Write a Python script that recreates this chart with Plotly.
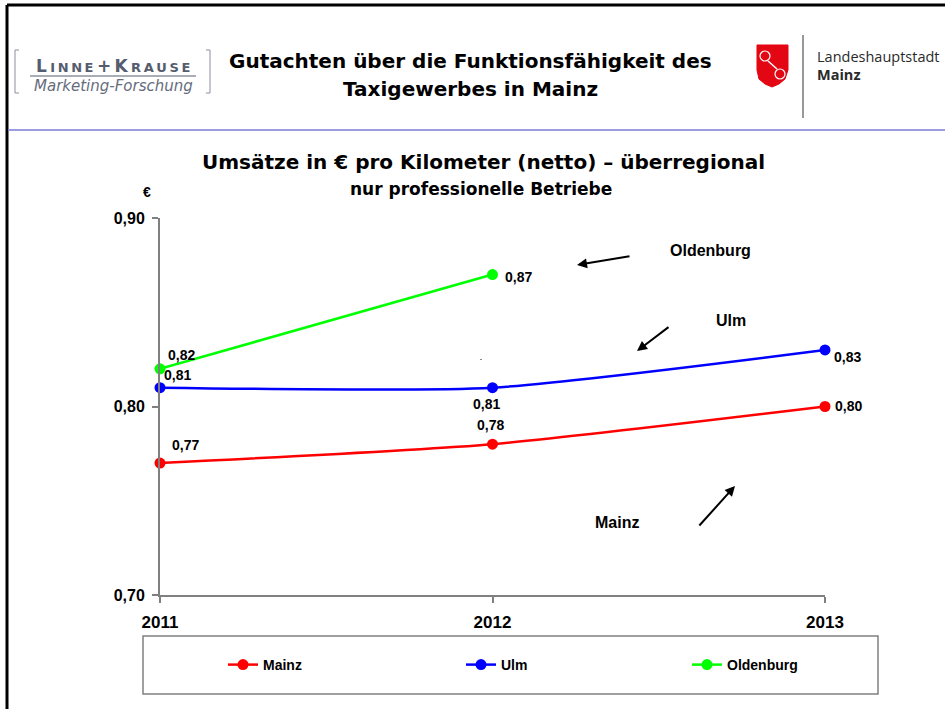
import plotly.graph_objects as go

# ---------------- data ----------------
years = [2011, 2012, 2013]
year_labels = ["2011", "2012", "2013"]
mainz = [0.77, 0.78, 0.80]
ulm = [0.81, 0.81, 0.83]
oldenburg = [0.82, 0.87, None]
y_ticks = [0.70, 0.80, 0.90]
y_tick_labels = ["0,70", "0,80", "0,90"]

# ---------------- geometry helpers (pixel -> paper) ----------------
W_FIG, H_FIG = 945, 709
L, R, T, B = 160, 825, 218, 595
PW, PH = R - L, B - T


def px(x):
    return (x - L) / PW


def py(y):
    return (B - y) / PH


FONT = "Liberation Sans, Arial, sans-serif"
WIDE = "DejaVu Sans, sans-serif"

fig = go.Figure()

series = [
    ("Mainz", mainz, "#ff0000", "legend"),
    ("Ulm", ulm, "#0000ff", "legend2"),
    ("Oldenburg", oldenburg, "#00ff00", "legend3"),
]
for name, vals, col, lg in series:
    fig.add_trace(go.Scatter(
        x=years, y=vals, name=name, mode="lines+markers",
        line=dict(color=col, width=2.5, shape="spline", smoothing=0.6),
        marker=dict(color=col, size=11),
        cliponaxis=False, legend=lg, connectgaps=False,
    ))

def fmt(v):
    return f"{v:.2f}".replace(".", ",")

# data labels (value, year, xshift, yshift)
label_specs = [
    (mainz, [(25, 18), (-2, 19), (23, 1)]),
    (ulm, [(17, 13), (-6, -16), (22, -7)]),
    (oldenburg, [(21, 14), (26, -2), None]),
]
annotations = []
for vals, shifts in label_specs:
    for yr, v, s in zip(years, vals, shifts):
        if v is None or s is None:
            continue
        annotations.append(dict(
            x=yr, y=v, xref="x", yref="y", text=fmt(v), showarrow=False,
            xshift=s[0], yshift=s[1], xanchor="center", yanchor="middle",
            font=dict(family=FONT, size=14, color="black", weight="bold"),
        ))


def ptext(x, y, text, size, weight="normal", color="black", xanchor="center",
          family=FONT, style="normal"):
    annotations.append(dict(
        x=px(x), y=py(y), xref="paper", yref="paper", text=text, showarrow=False,
        xanchor=xanchor, yanchor="middle",
        font=dict(family=family, size=size, color=color, weight=weight, style=style),
    ))


# header
ptext(470, 61, "Gutachten über die Funktionsfähigkeit des", 20, "bold", family=WIDE)
ptext(470, 89, "Taxigewerbes in Mainz", 20, "bold", family=WIDE)
# chart title
ptext(483, 162, "Umsätze in € pro Kilometer (netto) – überregional", 20, "bold", family=WIDE)
ptext(481, 189, "nur professionelle Betriebe", 17, "bold", family=WIDE)
ptext(147, 192, "€", 14, "bold")

# series callouts
ptext(710, 250, "Oldenburg", 16, "bold")
ptext(731, 320, "Ulm", 16, "bold")
ptext(617, 522, "Mainz", 16, "bold")

# Linne+Krause logo text
ts = "\u2009"
small = lambda s: "<span style='font-size:13px'>" + ts.join(s) + "</span>"
ptext(113, 66, "L" + ts + small("INNE") + ts + "+" + ts + "K" + ts + small("RAUSE"),
      17, "bold", "#555c6e", family=WIDE)
ptext(113, 86, "Marketing-Forschung", 15, "normal", "#666c7c",
      family=WIDE, style="italic")
# Mainz logo text
ptext(815, 57, "Landeshauptstadt", 14.5, "normal", "#2a2a2a", xanchor="left",
      family="Open Sans, sans-serif")
ptext(815, 75, "Mainz", 14.5, "bold", "#2a2a2a", xanchor="left",
      family="Open Sans, sans-serif")

# arrows (head x,y ; tail x,y)
arrows = [((577, 265), (631, 256)), ((637, 351), (670, 326)), ((735, 486), (698, 527))]
for (hx, hy), (tx, ty) in arrows:
    annotations.append(dict(
        x=px(hx), y=py(hy), xref="paper", yref="paper",
        ax=tx - hx, ay=ty - hy, axref="pixel", ayref="pixel",
        text="", showarrow=True, arrowhead=2, arrowsize=1, arrowwidth=2,
        arrowcolor="black",
    ))

shapes = []


def pline(x0, y0, x1, y1, color, width):
    shapes.append(dict(type="line", xref="paper", yref="paper",
                       x0=px(x0), y0=py(y0), x1=px(x1), y1=py(y1),
                       line=dict(color=color, width=width)))


def ppath(points, color, width, fill=None, close=False):
    d = "M " + " L ".join(f"{px(x):.5f},{py(y):.5f}" for x, y in points)
    if close:
        d += " Z"
    shapes.append(dict(type="path", xref="paper", yref="paper", path=d,
                       line=dict(color=color, width=width),
                       fillcolor=fill if fill else "rgba(0,0,0,0)"))


# slide frame
pline(7, 5, 945, 5, "black", 3)
pline(7, 5, 7, 709, "black", 3)
# separator
pline(8, 130, 945, 130, "#7b7bd8", 1.5)
# Linne+Krause brackets and rule
ppath([(19, 50), (15, 50), (15, 93), (19, 93)], "#8a90a0", 1)
ppath([(206, 50), (210, 50), (210, 93), (206, 93)], "#8a90a0", 1)
pline(30, 76, 196, 76, "#555c6e", 1)
# Mainz logo: shield
shield = [(757, 45), (788, 45), (788, 70), (785, 79), (779, 84), (772, 87),
          (765, 84), (759, 79), (757, 70)]
ppath(shield, "#e30613", 1, fill="#e30613", close=True)
for cx, cy in [(765, 56), (780, 74)]:
    shapes.append(dict(type="circle", xref="paper", yref="paper",
                       x0=px(cx - 5), x1=px(cx + 5), y0=py(cy + 5), y1=py(cy - 5),
                       line=dict(color="white", width=1.2)))
pline(768, 61, 777, 69, "white", 1.5)
pline(803, 35, 803, 118, "#333333", 1)
# legend frame
shapes.append(dict(type="rect", xref="paper", yref="paper",
                   x0=px(143), x1=px(878), y0=py(694), y1=py(636),
                   line=dict(color="#808080", width=1.5)))
# stray dot
shapes.append(dict(type="rect", xref="paper", yref="paper",
                   x0=px(480.5), x1=px(481.5), y0=py(360), y1=py(359),
                   line=dict(width=0), fillcolor="#330033"))

leg_common = dict(orientation="h", yanchor="middle", xanchor="left",
                  bgcolor="rgba(0,0,0,0)", borderwidth=0,
                  font=dict(family=FONT, size=14, color="black", weight="bold"))

fig.update_layout(
    width=W_FIG, height=H_FIG,
    margin=dict(l=L, r=W_FIG - R, t=T, b=H_FIG - B),
    paper_bgcolor="white", plot_bgcolor="white",
    showlegend=True,
    legend=dict(x=px(223), y=py(665), **leg_common),
    legend2=dict(x=px(461), y=py(665), **leg_common),
    legend3=dict(x=px(687), y=py(665), **leg_common),
    xaxis=dict(range=[2011, 2013], tickvals=years, ticktext=year_labels,
               showline=True, linecolor="#808080", linewidth=2,
               ticks="outside", ticklen=6, tickcolor="#808080", tickwidth=1.5,
               showgrid=False, zeroline=False, ticklabelstandoff=5,
               tickfont=dict(family=FONT, size=17, color="black", weight="bold")),
    yaxis=dict(range=[0.70, 0.90], tickvals=y_ticks, ticktext=y_tick_labels,
               showline=True, linecolor="#808080", linewidth=2,
               ticks="outside", ticklen=6, tickcolor="#808080", tickwidth=1.5,
               showgrid=False, zeroline=False, ticklabelstandoff=4,
               tickfont=dict(family=FONT, size=16, color="black", weight="bold")),
    annotations=annotations,
    shapes=shapes,
)

fig.write_html("out.html",
               config={"displayModeBar": False},
               post_script="document.body.style.margin='0';document.body.style.overflow='hidden';")
